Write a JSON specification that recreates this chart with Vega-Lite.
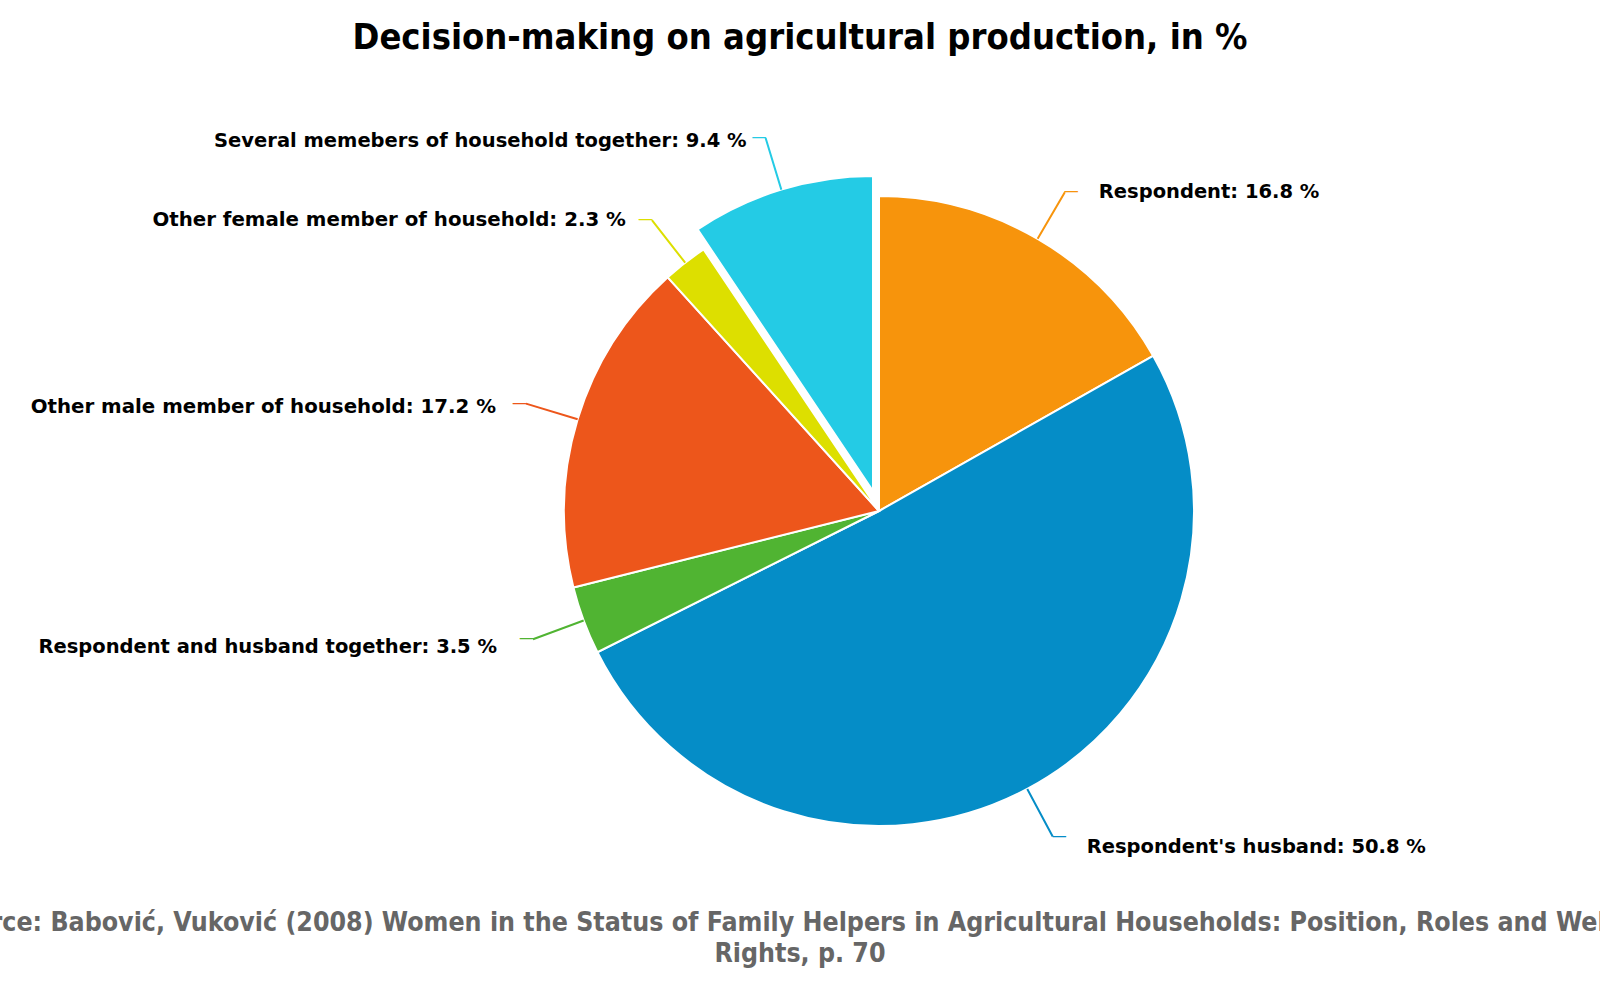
{
  "$schema": "https://vega.github.io/schema/vega-lite/v6.json",
  "autosize": {"type": "none"},
  "padding": {"left": 158, "top": 22, "right": 0, "bottom": 0},
  "width": 1442,
  "height": 978,
  "background": "#ffffff",
  "title": {
    "text": "Decision-making on agricultural production, in %",
    "subtitle": [
      "Source: Babović, Vuković (2008) Women in the Status of Family Helpers in Agricultural Households: Position, Roles and Welfare",
      "Rights, p. 70"
    ],
    "font": "DejaVu Sans Condensed",
    "fontSize": 36,
    "fontWeight": "bold",
    "color": "#000000",
    "subtitleFont": "DejaVu Sans Condensed",
    "subtitleFontSize": 26.5,
    "subtitleFontWeight": "bold",
    "subtitleColor": "#666666",
    "subtitleLineHeight": 31,
    "subtitlePadding": 853,
    "anchor": "middle",
    "frame": "group",
    "dx": -79,
    "offset": -946
  },
  "data": {
    "values": [
      {"slice": "Respondent", "value": 16.8, "rank": 1},
      {"slice": "Respondent's husband", "value": 50.8, "rank": 2},
      {"slice": "Respondent and husband together", "value": 3.5, "rank": 3},
      {"slice": "Other male member of household", "value": 17.2, "rank": 4},
      {"slice": "Other female member of household", "value": 2.3, "rank": 5},
      {"slice": "Several memebers of household together", "value": 9.4, "rank": 6}
    ]
  },
  "transform": [
    {"calculate": "datum.slice + ': ' + format(datum.value, '.1f') + ' %'", "as": "label"},
    {"stack": "value", "groupby": [], "sort": [{"field": "rank", "order": "ascending"}], "as": ["v0", "v1"]},
    {"calculate": "(datum.v0 + datum.v1) / 2", "as": "vmid"}
  ],
  "encoding": {
    "theta": {"field": "value", "type": "quantitative", "stack": true},
    "order": {"field": "rank", "type": "quantitative"}
  },
  "layer": [
    {
      "mark": {"type": "arc", "outerRadius": 315, "stroke": "#ffffff", "strokeWidth": 2},
      "encoding": {
        "color": {
          "field": "slice",
          "type": "nominal",
          "scale": {
            "domain": ["Respondent", "Respondent's husband", "Respondent and husband together", "Other male member of household", "Other female member of household", "Several memebers of household together"],
            "range": ["#f7940c", "#058dc7", "#50b432", "#ed561b", "#dddf00", "#24cbe5"]
          },
          "legend": null
        },
        "opacity": {"condition": {"test": "datum.rank === 6", "value": 0}, "value": 1}
      }
    },
    {
      "mark": {"type": "arc", "outerRadius": 315, "stroke": "#ffffff", "strokeWidth": 2, "xOffset": -6, "yOffset": -20},
      "encoding": {
        "color": {"field": "slice", "type": "nominal", "legend": null},
        "opacity": {"condition": {"test": "datum.rank === 6", "value": 1}, "value": 0}
      }
    },
    {
      "mark": {"type": "arc", "innerRadius": 315, "outerRadius": 369, "filled": false, "strokeWidth": 2},
      "encoding": {
        "theta": {"field": "vmid", "type": "quantitative", "stack": null},
        "theta2": {"field": "vmid"},
        "color": {"field": "slice", "type": "nominal", "legend": null},
        "opacity": {"condition": {"test": "datum.rank === 6", "value": 0}, "value": 1}
      }
    },
    {
      "mark": {"type": "arc", "innerRadius": 315, "outerRadius": 369, "filled": false, "strokeWidth": 2, "xOffset": -6, "yOffset": -20},
      "encoding": {
        "theta": {"field": "vmid", "type": "quantitative", "stack": null},
        "theta2": {"field": "vmid"},
        "color": {"field": "slice", "type": "nominal", "legend": null},
        "opacity": {"condition": {"test": "datum.rank === 6", "value": 1}, "value": 0}
      }
    },
    {
      "mark": {"type": "text", "radius": 369, "align": "left", "baseline": "alphabetic", "dx": -1, "dy": 4, "font": "DejaVu Sans", "fontSize": 15},
      "encoding": {
        "text": {"value": "—"},
        "color": {"field": "slice", "type": "nominal", "legend": null},
        "opacity": {"condition": {"test": "datum.rank <= 2", "value": 1}, "value": 0}
      }
    },
    {
      "mark": {"type": "text", "radius": 369, "align": "right", "baseline": "alphabetic", "dx": 1, "dy": 4, "font": "DejaVu Sans", "fontSize": 15},
      "encoding": {
        "text": {"value": "—"},
        "color": {"field": "slice", "type": "nominal", "legend": null},
        "opacity": {"condition": {"test": "datum.rank >= 3 && datum.rank <= 5", "value": 1}, "value": 0}
      }
    },
    {
      "mark": {"type": "text", "radius": 369, "align": "right", "baseline": "alphabetic", "dx": 1, "dy": 4, "xOffset": -6, "yOffset": -20, "font": "DejaVu Sans", "fontSize": 15},
      "encoding": {
        "text": {"value": "—"},
        "color": {"field": "slice", "type": "nominal", "legend": null},
        "opacity": {"condition": {"test": "datum.rank === 6", "value": 1}, "value": 0}
      }
    },
    {
      "mark": {"type": "text", "radius": 369, "align": "left", "baseline": "middle", "dx": 34, "font": "DejaVu Sans", "fontWeight": "bold", "fontSize": 19.5, "color": "#000000"},
      "encoding": {
        "text": {"field": "label"},
        "opacity": {"condition": {"test": "datum.rank === 1", "value": 1}, "value": 0}
      }
    },
    {
      "mark": {"type": "text", "radius": 369, "align": "left", "baseline": "middle", "dx": 34, "dy": 10, "font": "DejaVu Sans", "fontWeight": "bold", "fontSize": 19.5, "color": "#000000"},
      "encoding": {
        "text": {"field": "label"},
        "opacity": {"condition": {"test": "datum.rank === 2", "value": 1}, "value": 0}
      }
    },
    {
      "mark": {"type": "text", "radius": 369, "align": "right", "baseline": "middle", "dx": -36, "dy": 8, "font": "DejaVu Sans", "fontWeight": "bold", "fontSize": 19.5, "color": "#000000"},
      "encoding": {
        "text": {"field": "label"},
        "opacity": {"condition": {"test": "datum.rank === 3", "value": 1}, "value": 0}
      }
    },
    {
      "mark": {"type": "text", "radius": 369, "align": "right", "baseline": "middle", "dx": -30, "dy": 3, "font": "DejaVu Sans", "fontWeight": "bold", "fontSize": 19.8, "color": "#000000"},
      "encoding": {
        "text": {"field": "label"},
        "opacity": {"condition": {"test": "datum.rank === 4", "value": 1}, "value": 0}
      }
    },
    {
      "mark": {"type": "text", "radius": 369, "align": "right", "baseline": "middle", "dx": -26, "font": "DejaVu Sans", "fontWeight": "bold", "fontSize": 19.8, "color": "#000000"},
      "encoding": {
        "text": {"field": "label"},
        "opacity": {"condition": {"test": "datum.rank === 5", "value": 1}, "value": 0}
      }
    },
    {
      "mark": {"type": "text", "radius": 369, "align": "right", "baseline": "middle", "dx": -19, "dy": 3, "xOffset": -6, "yOffset": -20, "font": "DejaVu Sans", "fontWeight": "bold", "fontSize": 19.5, "color": "#000000"},
      "encoding": {
        "text": {"field": "label"},
        "opacity": {"condition": {"test": "datum.rank === 6", "value": 1}, "value": 0}
      }
    }
  ],
  "config": {
    "view": {"stroke": null}
  }
}
